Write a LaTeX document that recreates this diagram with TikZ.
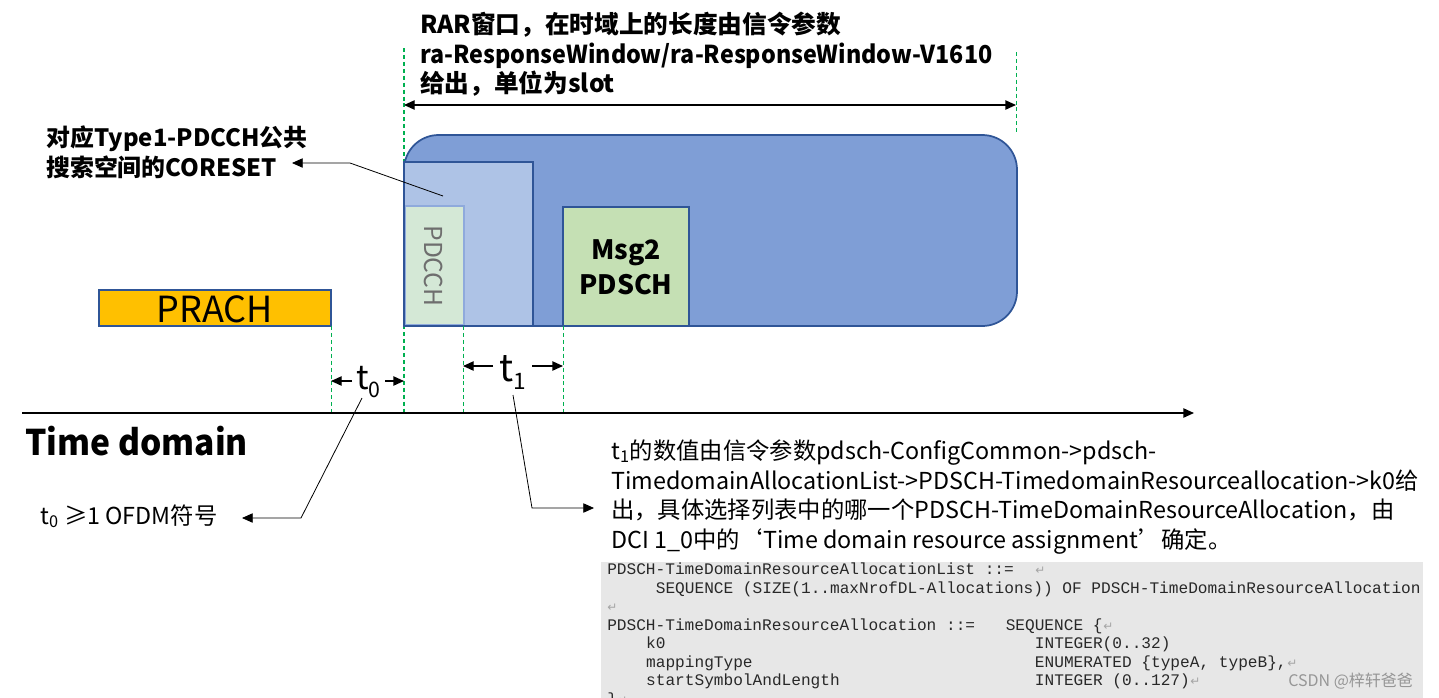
\documentclass[tikz,border=0pt]{standalone}
\usepackage{fontspec}
\setmainfont{Noto Sans CJK SC}
\newfontfamily\codefont{Liberation Mono}
\newfontfamily\symfont{DejaVu Sans}
\usetikzlibrary{arrows.meta}
\definecolor{winfill}{RGB}{127,158,214}
\definecolor{boxline}{RGB}{47,85,151}
\definecolor{corefill}{RGB}{174,195,230}
\definecolor{pdcchfill}{RGB}{212,232,214}
\definecolor{pdcchline}{RGB}{143,170,220}
\definecolor{msgfill}{RGB}{197,224,180}
\definecolor{prachfill}{RGB}{255,192,0}
\definecolor{dashgreen}{RGB}{0,176,80}
\definecolor{codebg}{RGB}{231,231,231}
\definecolor{codetext}{RGB}{40,40,40}
\definecolor{retgrey}{RGB}{165,165,165}
\definecolor{pdcchtext}{RGB}{110,110,110}
\definecolor{wmgrey}{RGB}{150,150,150}
\begin{document}
\begin{tikzpicture}[x=0.75pt,y=-0.75pt,
  txt/.style={inner sep=0pt,anchor=base west},
  guide/.style={dashgreen,line width=0.7pt,dash pattern=on 3pt off 2.2pt},
  tipped/.style={-{Triangle[length=8pt,width=7pt]}},
  leader/.style={line width=0.6pt},
  shapeline/.style={draw=boxline,line width=1.3pt},
  titlefont/.style={font=\fontsize{18.5pt}{22pt}\selectfont\bfseries},
  descfont/.style={font=\fontsize{17.5pt}{20pt}\selectfont},
  codeline/.style={inner sep=0pt,anchor=base west,text=codetext,font=\codefont\fontsize{12.1pt}{14pt}\selectfont},
  retmark/.style={inner sep=0pt,anchor=base west,text=retgrey,font=\symfont\fontsize{9pt}{10pt}\selectfont}
]
\useasboundingbox (0,0) rectangle (1439,697);
\fill[white] (0,0) rectangle (1439,697);

% title
\node[txt,titlefont] (title1) at (420,33) {RAR窗口，在时域上的长度由信令参数};
\node[txt,titlefont] (title2) at (420,63) {\addfontfeatures{FakeStretch=0.945}ra-ResponseWindow/ra-ResponseWindow-V1610};
\node[txt,titlefont] (title3) at (420,92) {给出，单位为slot};

% guides
\coordinate (gA1) at (404,48);
\coordinate (gA2) at (404,413);
\coordinate (gB1) at (1016,52);
\coordinate (gB2) at (1016,135);
\draw[guide,line width=1pt] (gA1) -- (gA2);
\draw[guide] (gB1) -- (gB2);
\coordinate (wL) at (404,105);
\coordinate (wR) at (1016,105);
\draw[{Triangle[length=8pt,width=7pt]}-{Triangle[length=8pt,width=7pt]},line width=1pt] (wL) -- (wR);

% window box
\draw[shapeline,fill=winfill,rounded corners=26pt] (404,135) rectangle (1017,326);
% coreset
\draw[shapeline,fill=corefill] (404,162) rectangle (533,326);
% pdcch
\draw[draw=pdcchline,line width=1pt,fill=pdcchfill] (405,206) rectangle (464,325);
\node[inner sep=0pt,rotate=-90,text=pdcchtext,font=\fontsize{18.5pt}{20pt}\selectfont] (pdcch) at (434,266) {PDCCH};
\draw[shapeline] (404,162) rectangle (533,326);
% msg2
\draw[shapeline,fill=msgfill] (563,207) rectangle (689,326);
\node[inner sep=0pt,align=center,font=\fontsize{20pt}{26pt}\selectfont\bfseries] (msg2) at (626,267) {Msg2\\PDSCH};
% prach
\draw[shapeline,fill=prachfill] (99,290) rectangle (331,326);
\node[inner sep=0pt,font=\fontsize{27pt}{28pt}\selectfont] (prach) at (215,309) {PRACH};

% lower guides
\draw[guide] (331,326) -- (331,412);
\draw[guide] (463,326) -- (463,413);
\draw[guide] (563,326) -- (563,413);

% axis
\coordinate (ax0) at (22,413);
\coordinate (ax1) at (1194,413);
\draw[tipped,line width=1.1pt] (ax0) -- (ax1);
\node[txt,font=\fontsize{26.5pt}{30pt}\selectfont\bfseries\addfontfeatures{FakeStretch=0.95}] (timedom) at (25,455) {Time domain};

% t0 / t1
\node[txt,font=\fontsize{25pt}{28pt}\selectfont] (t0) at (356,389) {t\raisebox{-6pt}{\fontsize{16pt}{18pt}\selectfont 0}};
\coordinate (t0a) at (352,381); \coordinate (t0L) at (331,381);
\coordinate (t0b) at (385,381); \coordinate (t0R) at (404,381);
\draw[tipped,line width=1pt] (t0a) -- (t0L);
\draw[tipped,line width=1pt] (t0b) -- (t0R);
\node[txt,font=\fontsize{28pt}{30pt}\selectfont] (t1) at (499,381) {t\raisebox{-6pt}{\fontsize{17pt}{18pt}\selectfont 1}};
\coordinate (t1a) at (493,366); \coordinate (t1L) at (463,366);
\coordinate (t1b) at (532,366); \coordinate (t1R) at (563,366);
\draw[tipped,line width=1pt] (t1a) -- (t1L);
\draw[tipped,line width=1pt] (t1b) -- (t1R);

% coreset label
\node[txt,font=\fontsize{17.9pt}{20pt}\selectfont\bfseries] (core1) at (46,146) {对应Type1-PDCCH公共};
\node[txt,font=\fontsize{17.9pt}{20pt}\selectfont\bfseries] (core2) at (46,176) {搜索空间的CORESET};
\coordinate (cS) at (443,196); \coordinate (cB) at (350,163); \coordinate (cE) at (292,163);
\draw[leader,tipped] (cS) -- (cB) -- (cE);

% t0 note
\node[txt,font=\fontsize{17.5pt}{20pt}\selectfont] (t0note) at (40,524) {t\textsubscript{0} ≥1 OFDM符号};
\coordinate (n0S) at (362,398); \coordinate (n0B) at (301,518); \coordinate (n0E) at (242,518);
\draw[leader,tipped] (n0S) -- (n0B) -- (n0E);

% t1 note
\coordinate (n1S) at (513,395); \coordinate (n1B) at (532,508); \coordinate (n1E) at (594,508);
\draw[leader,tipped] (n1S) -- (n1B) -- (n1E);
\node[txt,descfont] (d1) at (611,459) {t\textsubscript{1}的数值由信令参数pdsch-ConfigCommon->pdsch-};
\node[txt,descfont] (d2) at (611,489) {TimedomainAllocationList->PDSCH-TimedomainResourceallocation->k0给};
\node[txt,descfont] (d3) at (611,518) {出，具体选择列表中的哪一个PDSCH-TimeDomainResourceAllocation，由};
\node[txt,descfont] (d4) at (611,548) {DCI 1\_0中的‘Time domain resource assignment’确定。};

% code block
\begin{scope}
\clip (601,562) rectangle (1423,697);
\fill[codebg] (601,562) rectangle (1423,700);
\node[codeline] (c1) at (607,574) {PDSCH-TimeDomainResourceAllocationList ::=};
\node[retmark] (r1) at (1035,574) {↵};
\node[codeline] (c2) at (655.6,593) {SEQUENCE (SIZE(1..maxNrofDL-Allocations)) OF PDSCH-TimeDomainResourceAllocation};
\node[retmark] (r2) at (1424,593) {↵};
\node[retmark] (r3) at (607,611) {↵};
\node[codeline] (c4) at (607,630) {PDSCH-TimeDomainResourceAllocation ::=};
\node[codeline] (c4b) at (1005.5,630) {SEQUENCE \{};
\node[retmark] (r4) at (1103,630) {↵};
\node[codeline] (c5) at (645.9,648) {k0};
\node[codeline] (c5b) at (1034.7,648) {INTEGER(0..32)};
\node[codeline] (c6) at (645.9,667) {mappingType};
\node[codeline] (c6b) at (1034.7,667) {ENUMERATED \{typeA, typeB\},};
\node[retmark] (r6) at (1287,667) {↵};
\node[codeline] (c7) at (645.9,685) {startSymbolAndLength};
\node[codeline] (c7b) at (1034.7,685) {INTEGER (0..127)};
\node[retmark] (r7) at (1190,685) {↵};
\node[codeline] (c8) at (607,704) {\}};
\node[retmark] (r8) at (617,704) {↵};
\node[txt,text=wmgrey,font=\fontsize{12pt}{14pt}\selectfont] (wm) at (1288,686) {CSDN @梓轩爸爸};
\end{scope}
\end{tikzpicture}
\end{document}
